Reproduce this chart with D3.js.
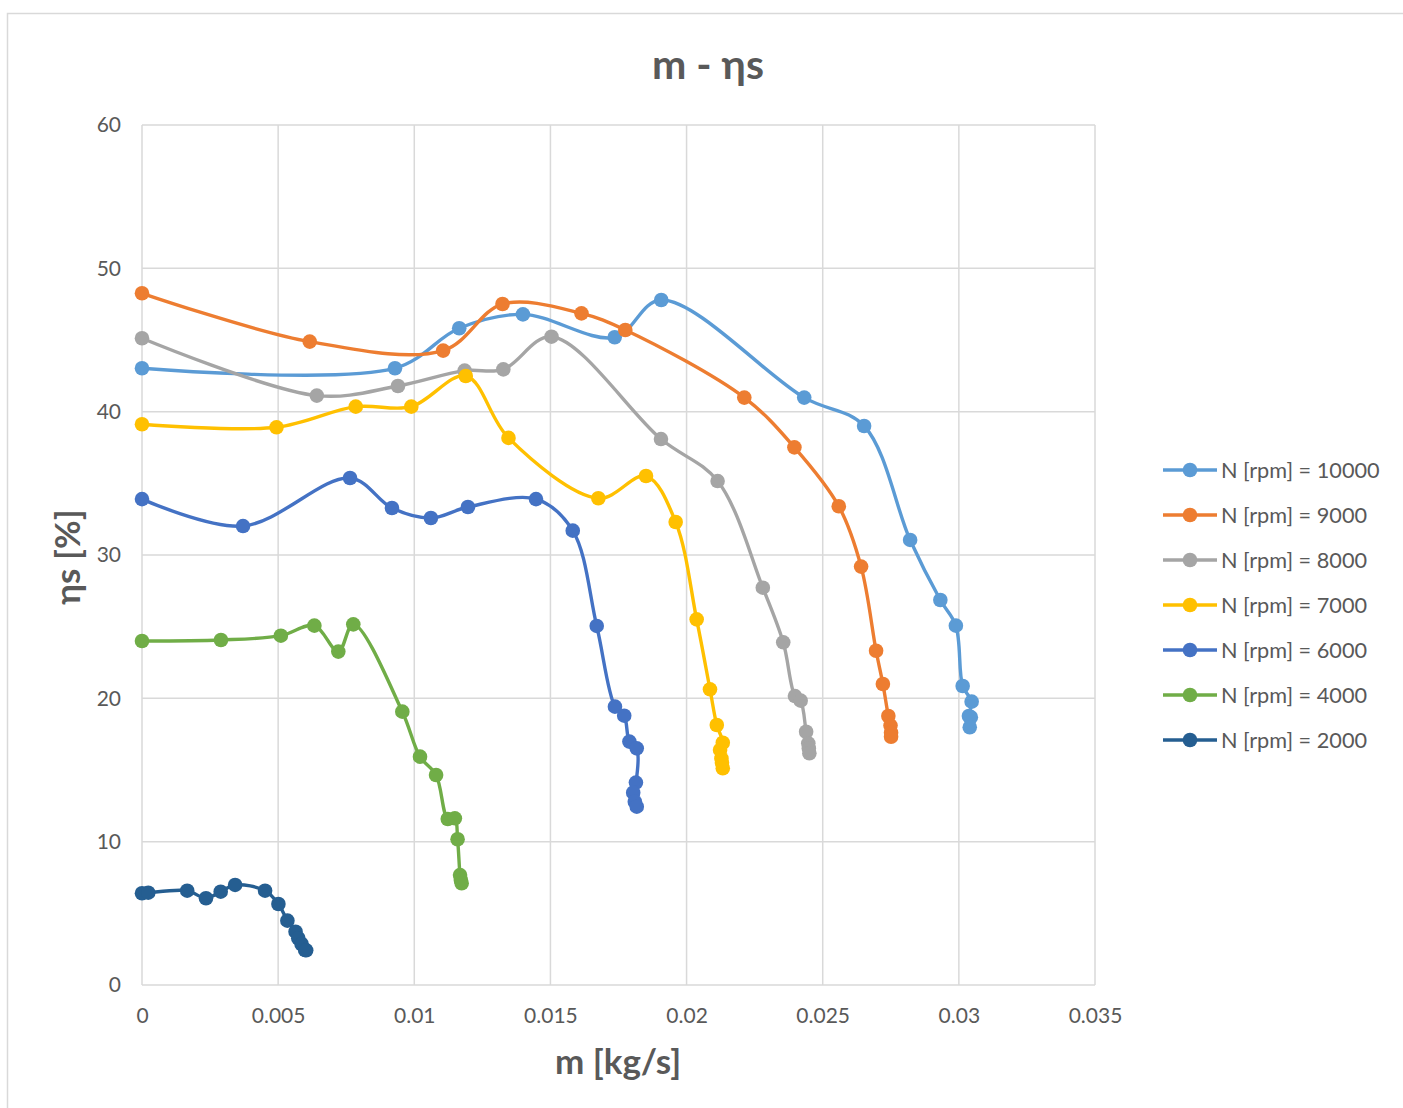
<!DOCTYPE html>
<html><head><meta charset="utf-8">
<script src="https://cdn.jsdelivr.net/npm/d3@7"></script>
<style>
body{margin:0;background:#fff;}
text{font-family:Lato,"Open Sans",sans-serif;}
</style>
</head><body>
<svg id="chart" width="1403" height="1108"></svg>
<script>
const seriesNames = ["N [rpm] = 10000","N [rpm] = 9000","N [rpm] = 8000","N [rpm] = 7000","N [rpm] = 6000","N [rpm] = 4000","N [rpm] = 2000"];
const seriesColors = ["#5B9BD5","#ED7D31","#A5A5A5","#FFC000","#4472C4","#70AD47","#255E91"];

const m10000 = [0,0.00929,0.01165,0.01399,0.01736,0.01907,0.02432,0.02652,0.02821,0.02932,0.02989,0.03014,0.03047,0.03037,0.03044,0.03040];
const e10000 = [43.03,43.03,45.82,46.79,45.19,47.79,40.98,39.0,31.05,26.86,25.07,20.86,19.77,18.77,18.68,17.98];

const m9000 = [0,0.00616,0.01106,0.01324,0.01614,0.01775,0.02212,0.02396,0.02559,0.02641,0.02696,0.02721,0.02741,0.02749,0.02751,0.02751];
const e9000 = [48.26,44.89,44.26,47.51,46.86,45.70,40.98,37.51,33.40,29.19,23.32,21.0,18.77,18.1,17.6,17.32];

const m8000 = [0,0.00642,0.0094,0.01185,0.01327,0.01504,0.01906,0.02114,0.0228,0.02355,0.02398,0.02419,0.02439,0.02447,0.02449,0.02451];
const e8000 = [45.12,41.12,41.79,42.86,42.95,45.23,38.09,35.16,27.72,23.91,20.16,19.84,17.67,16.86,16.5,16.17];

const m7000 = [0,0.00494,0.00785,0.00989,0.01189,0.01346,0.01676,0.01851,0.0196,0.02037,0.02086,0.02111,0.02133,0.02123,0.02128,0.0213,0.02133];
const e7000 = [39.12,38.91,40.35,40.35,42.49,38.17,33.96,35.51,32.3,25.51,20.63,18.14,16.9,16.4,15.8,15.5,15.12];

const m6000 = [0,0.00371,0.00764,0.00918,0.01061,0.01197,0.01447,0.01582,0.0167,0.01737,0.01771,0.0179,0.01817,0.01814,0.01804,0.0181,0.01817];
const e6000 = [33.9,32.02,35.37,33.28,32.58,33.35,33.9,31.7,25.05,19.42,18.79,16.98,16.51,14.12,13.42,12.79,12.44];

const m4000 = [0,0.0029,0.0051,0.00633,0.00721,0.00776,0.00956,0.01021,0.0108,0.01123,0.01149,0.01159,0.01168,0.01171,0.01174];
const e4000 = [24.0,24.07,24.37,25.07,23.26,25.16,19.07,15.93,14.65,11.58,11.63,10.17,7.67,7.33,7.1];

const m2000 = [0,0.00023,0.00166,0.00235,0.00289,0.00342,0.00452,0.00501,0.00534,0.00564,0.00574,0.00586,0.00599,0.00603];
const e2000 = [6.4,6.44,6.58,6.05,6.51,6.98,6.58,5.65,4.49,3.72,3.26,2.86,2.44,2.42];

const xTicks = [0,0.005,0.01,0.015,0.02,0.025,0.03,0.035];
const yTicks = [0,10,20,30,40,50,60];

const allM = [m10000,m9000,m8000,m7000,m6000,m4000,m2000];
const allE = [e10000,e9000,e8000,e7000,e6000,e4000,e2000];
const series = seriesNames.map((name,i)=>({name,color:seriesColors[i],pts:allM[i].map((m,j)=>({m,e:allE[i][j]}))}));

const svg = d3.select("#chart");
svg.append("rect").attr("x",7.5).attr("y",13.5).attr("width",1500).attr("height",1200)
  .attr("fill","#fff").attr("stroke","#D9D9D9").attr("stroke-width",1.5);

const L=142,R=1095,T=125,B=985;
const x = d3.scaleLinear().domain([0,0.035]).range([L,R]);
const y = d3.scaleLinear().domain([0,60]).range([B,T]);

svg.append("g").selectAll("line.v").data(xTicks).join("line")
  .attr("x1",d=>x(d)).attr("x2",d=>x(d)).attr("y1",T).attr("y2",B)
  .attr("stroke","#D9D9D9").attr("stroke-width",1.5);
svg.append("g").selectAll("line.h").data(yTicks).join("line")
  .attr("x1",L).attr("x2",R).attr("y1",d=>y(d)).attr("y2",d=>y(d))
  .attr("stroke","#D9D9D9").attr("stroke-width",1.5);

const xAxis = svg.append("g").attr("transform",`translate(0,${B})`)
  .call(d3.axisBottom(x).tickValues(xTicks).tickSize(0).tickPadding(23).tickFormat(d=>d3.format("~g")(d)));
xAxis.select(".domain").remove();
xAxis.selectAll("text").attr("font-size",21).attr("fill","#595959").style("font-family","Lato,'Open Sans',sans-serif");

const yAxis = svg.append("g").attr("transform",`translate(${L},0)`)
  .call(d3.axisLeft(y).tickValues(yTicks).tickSize(0).tickPadding(21));
yAxis.select(".domain").remove();
yAxis.selectAll("text").attr("font-size",21).attr("fill","#595959").style("font-family","Lato,'Open Sans',sans-serif");

const line = d3.line().x(d=>x(d.m)).y(d=>y(d.e)).curve(d3.curveCatmullRom.alpha(0.5));
series.forEach(s=>{
  const g = svg.append("g");
  g.append("path").attr("d",line(s.pts)).attr("fill","none").attr("stroke",s.color).attr("stroke-width",3.4);
  g.selectAll("circle").data(s.pts).join("circle")
    .attr("cx",d=>x(d.m)).attr("cy",d=>y(d.e)).attr("r",7.3).attr("fill",s.color);
});

svg.append("text").attr("x",708).attr("y",79).attr("text-anchor","middle")
  .attr("font-size",41).attr("font-weight","bold").attr("fill","#595959").text("m - ηs");
svg.append("text").attr("x",618).attr("y",1074).attr("text-anchor","middle")
  .attr("font-size",35).attr("font-weight","bold").attr("fill","#595959").text("m [kg/s]");
svg.append("text").attr("transform","translate(80,557) rotate(-90)").attr("text-anchor","middle")
  .attr("font-size",35).attr("font-weight","bold").attr("fill","#595959").text("ηs [%]");

const lg = svg.append("g");
series.forEach((s,i)=>{
  const yy = 470 + i*45;
  lg.append("line").attr("x1",1163).attr("x2",1217).attr("y1",yy).attr("y2",yy).attr("stroke",s.color).attr("stroke-width",3.4);
  lg.append("circle").attr("cx",1190).attr("cy",yy).attr("r",7.3).attr("fill",s.color);
  lg.append("text").attr("x",1221).attr("y",yy+7.5).attr("font-size",21.7).attr("fill","#595959").text(s.name);
});
</script>
</body></html>
